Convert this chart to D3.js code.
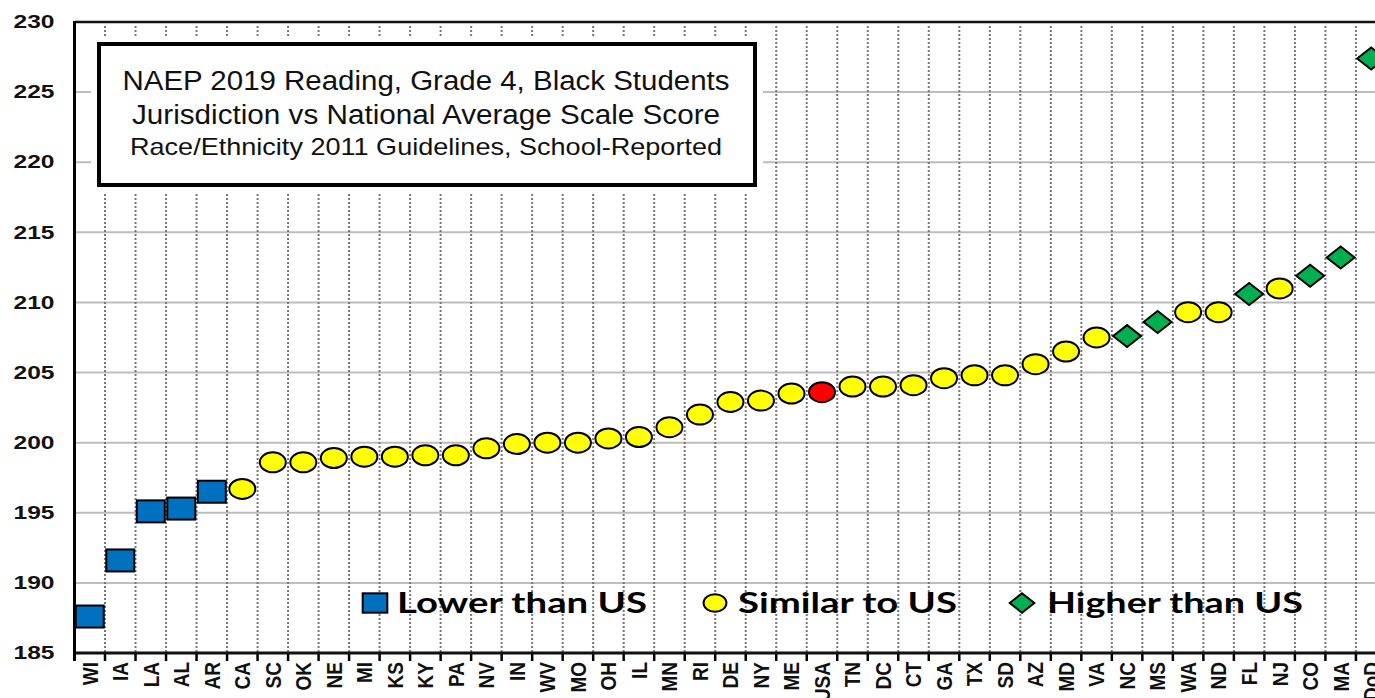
<!DOCTYPE html>
<html>
<head>
<meta charset="utf-8">
<script src="https://cdn.jsdelivr.net/npm/d3@7"></script>
<style>
body{margin:0;background:#fff;overflow:hidden}
svg{display:block}
</style>
</head>
<body>
<svg id="chart" width="1375" height="698"></svg>
<script>
// jurisdictions, ordered as on the chart
var states = ["WI","IA","LA","AL","AR","CA","SC","OK","NE","MI","KS","KY","PA","NV","IN","WV","MO","OH","IL","MN","RI","DE","NY","ME","USA","TN","DC","CT","GA","TX","SD","AZ","MD","VA","NC","MS","WA","ND","FL","NJ","CO","MA","DoD"];
var scores = [187.6,191.6,195.1,195.3,196.5,196.7,198.6,198.6,198.9,199.0,199.0,199.1,199.1,199.6,199.9,200.0,200.0,200.3,200.4,201.1,202.0,202.9,203.0,203.5,203.6,204.0,204.0,204.1,204.6,204.8,204.8,205.6,206.5,207.5,207.6,208.6,209.3,209.3,210.6,211.0,211.9,213.2,227.4];
// L = lower, S = similar, H = higher than US, U = national
var groups = ["L","L","L","L","L","S","S","S","S","S","S","S","S","S","S","S","S","S","S","S","S","S","S","S","U","S","S","S","S","S","S","S","S","S","H","H","S","S","H","S","H","H","H"];
var yTicks = [185,190,195,200,205,210,215,220,225,230];
var titleLines = ["NAEP 2019 Reading, Grade 4, Black Students","Jurisdiction vs National Average Scale Score","Race/Ethnicity 2011 Guidelines, School-Reported"];
var legendGroups = ["L","S","H"];
var legendLabels = ["Lower than US","Similar to US","Higher than US"];

var fillColor = {"L":"#0070C0","S":"#FFFF00","H":"#00B050","U":"#FF0000"};

var svg = d3.select("#chart");
var plotLeft = 74.5, plotTop = 22, plotBottom = 653;
var band = 30.51;

var x = d3.scaleBand().domain(states).range([plotLeft, plotLeft + band*states.length]).padding(0);
var y = d3.scaleLinear().domain([185,230]).range([plotBottom, plotTop]);

var plot = svg.append("g");

//水平格線
plot.selectAll(".hgrid").data(yTicks.filter(function(d){return d>185 && d<230;}))
	.enter().append("line")
	.attr("x1", plotLeft).attr("x2", 1375)
	.attr("y1", function(d){return y(d);}).attr("y2", function(d){return y(d);})
	.attr("stroke","#bdbdbd").attr("stroke-width",2);

//垂直虛線
plot.selectAll(".vgrid").data(states)
	.enter().append("line")
	.attr("x1", function(d){return x(d)+x.bandwidth();})
	.attr("x2", function(d){return x(d)+x.bandwidth();})
	.attr("y1", plotTop+4).attr("y2", plotBottom)
	.attr("stroke","#777").attr("stroke-width",2).attr("stroke-dasharray","2,2");

//標題框
svg.append("rect").attr("x",91).attr("y",36).attr("width",672).attr("height",158).attr("fill","#fff");
svg.append("rect").attr("x",99).attr("y",44).attr("width",656).attr("height",141)
	.attr("fill","#fff").attr("stroke","#000").attr("stroke-width",4);
var titleY = [90,124,155];
var titleSize = [27,27,24];
var titleLen = [607,588,592];
titleLines.forEach(function(t,i){
	svg.append("text").text(t)
		.attr("x",426).attr("y",titleY[i])
		.attr("text-anchor","middle")
		.attr("font-family","'Liberation Sans', Arial, sans-serif")
		.attr("font-size",titleSize[i]).attr("fill","#111")
		.attr("textLength",titleLen[i]).attr("lengthAdjust","spacingAndGlyphs");
});

function drawMarker(g, grp, cx, cy, s)
{
	var m;
	if(grp=="L")
	{
		m = g.append("rect").attr("x",cx-14*s).attr("y",cy-11*s).attr("width",28*s).attr("height",22*s);
	}
	else if(grp=="H")
	{
		m = g.append("path").attr("d","M"+(cx-14*s)+","+cy+" L"+cx+","+(cy-11*s)+" L"+(cx+14*s)+","+cy+" L"+cx+","+(cy+11*s)+" Z");
	}
	else
	{
		m = g.append("ellipse").attr("cx",cx).attr("cy",cy).attr("rx",13*s).attr("ry",10*s);
	}
	m.attr("fill",fillColor[grp]).attr("stroke","#000").attr("stroke-width",2);
}

//圖例
var legX = [375,715,1022];
var legTextX = [397,738,1047];
var legLen = [250,219,256];
legendGroups.forEach(function(g,i){
	drawMarker(svg, g, legX[i], 603, 0.88);
	svg.append("text").text(legendLabels[i])
		.attr("x",legTextX[i]).attr("y",613)
		.attr("font-family","Lato, 'Open Sans', sans-serif").attr("font-weight","bold")
		.attr("font-size",28).attr("fill","#000")
		.attr("textLength",legLen[i]).attr("lengthAdjust","spacingAndGlyphs");
});

//資料點
var marks = svg.append("g");
states.forEach(function(s,i){
	drawMarker(marks, groups[i], x(s)+x.bandwidth()/2, y(scores[i]), 1);
});

//座標軸
var yAxis = svg.append("g").attr("transform","translate("+plotLeft+",0)")
	.call(d3.axisLeft(y).tickValues(yTicks).tickSize(0).tickPadding(20));
yAxis.select(".domain").remove();
yAxis.selectAll("text")
	.attr("font-family","'Liberation Sans', Arial, sans-serif").attr("font-weight","bold")
	.attr("font-size",18).attr("fill","#111")
	.attr("textLength",41).attr("lengthAdjust","spacingAndGlyphs");

var xAxis = svg.append("g").attr("transform","translate(0,"+plotBottom+")")
	.call(d3.axisBottom(x).tickSize(0));
xAxis.select(".domain").remove();
xAxis.selectAll("text")
	.attr("transform","rotate(-90) scale(1,1.15)")
	.attr("text-anchor","end")
	.attr("dx","-9px").attr("dy","0.36em").attr("y",0).attr("x",0)
	.attr("font-family","'Liberation Sans', Arial, sans-serif").attr("font-weight","bold")
	.attr("font-size",19).attr("fill","#111");

//刻度
svg.selectAll(".xtick").data(states)
	.enter().append("line")
	.attr("x1", function(d){return x(d)+x.bandwidth();})
	.attr("x2", function(d){return x(d)+x.bandwidth();})
	.attr("y1", plotBottom).attr("y2", plotBottom+8)
	.attr("stroke","#000").attr("stroke-width",2.5);

svg.append("line").attr("x1",plotLeft).attr("x2",1375).attr("y1",plotTop).attr("y2",plotTop).attr("stroke","#111").attr("stroke-width",2.5);
svg.append("line").attr("x1",plotLeft).attr("x2",1375).attr("y1",plotBottom).attr("y2",plotBottom).attr("stroke","#111").attr("stroke-width",3);
svg.append("line").attr("x1",plotLeft).attr("x2",plotLeft).attr("y1",plotTop-1).attr("y2",plotBottom+8).attr("stroke","#000").attr("stroke-width",3);
</script>
</body>
</html>
